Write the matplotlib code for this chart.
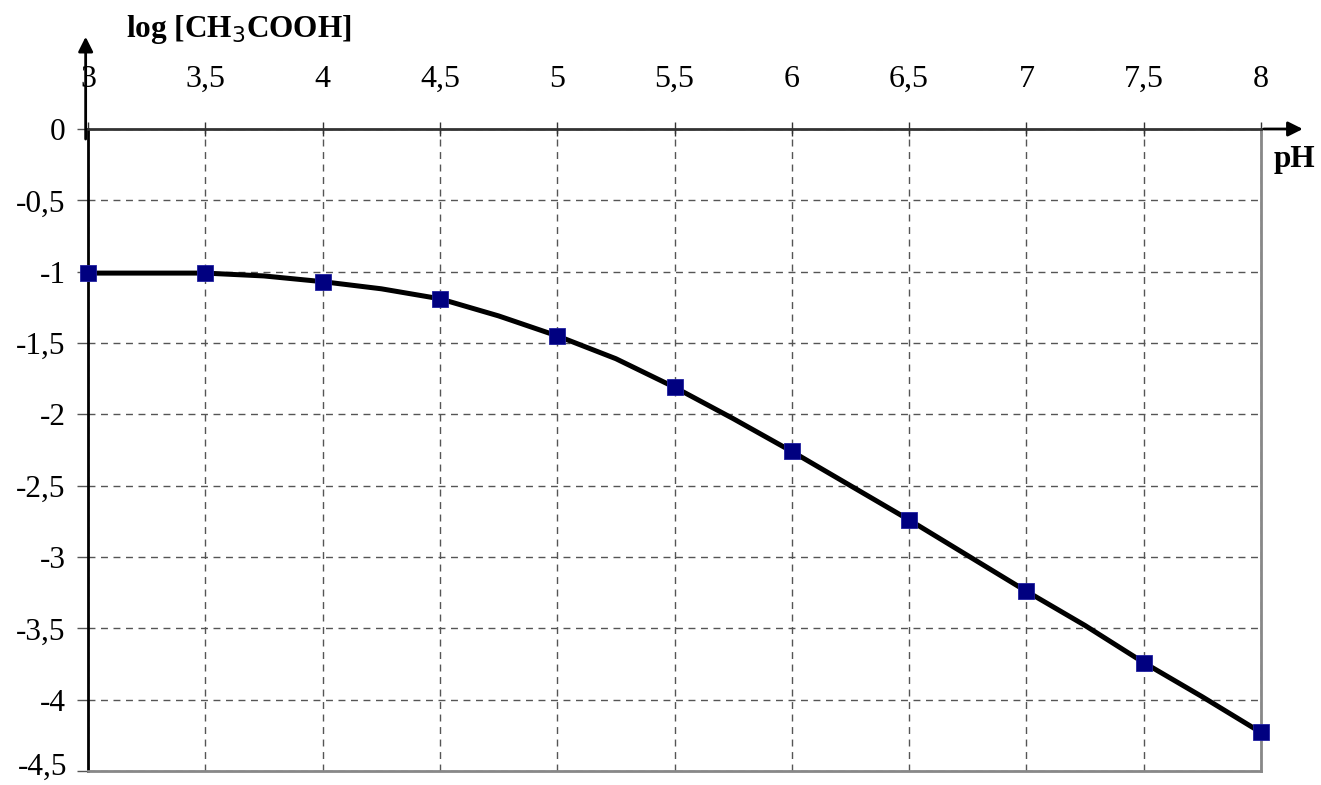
import matplotlib.pyplot as plt
from matplotlib.ticker import FuncFormatter, MultipleLocator

plt.rcParams['font.family'] = ['Liberation Serif', 'DejaVu Serif']
plt.rcParams['axes.unicode_minus'] = False

# full curve (every 0.25 pH) and marked points (every 0.5 pH)
ph_line = [3, 3.25, 3.5, 3.75, 4, 4.25, 4.5, 4.75, 5, 5.25, 5.5, 5.75,
           6, 6.25, 6.5, 6.75, 7, 7.25, 7.5, 7.75, 8]
log_line = [-1.01, -1.01, -1.01, -1.03, -1.07, -1.12, -1.19, -1.31, -1.45, -1.61, -1.81, -2.03,
            -2.26, -2.50, -2.74, -2.99, -3.24, -3.48, -3.74, -3.98, -4.23]
ph_pts = [3, 3.5, 4, 4.5, 5, 5.5, 6, 6.5, 7, 7.5, 8]
log_pts = [-1.01, -1.01, -1.07, -1.19, -1.45, -1.81, -2.26, -2.74, -3.24, -3.74, -4.23]
y_min, y_max = -4.5, 0

fig = plt.figure(figsize=(13.21, 7.85), dpi=100)
ax = fig.add_axes([88 / 1321, 1 - 771 / 785, (1261 - 88) / 1321, (771 - 129) / 785])

ax.plot(ph_line, log_line, color='black', lw=3.6, zorder=3, clip_on=False)
ax.plot(ph_pts, log_pts, ls='none', marker='s', ms=11.5, color='#000080',
        markeredgecolor='#2020a0', markeredgewidth=0.6, zorder=4, clip_on=False)

ax.set_xlim(3, 8)
ax.set_ylim(y_min, y_max)
ax.xaxis.set_major_locator(MultipleLocator(0.5))
ax.yaxis.set_major_locator(MultipleLocator(0.5))
fmt = lambda v: ('%g' % v).replace('.', ',')
ax.xaxis.set_major_formatter(FuncFormatter(lambda v, p: fmt(v)))
# lowest y label is drawn separately, a bit higher, so it is not cut at the edge
ax.yaxis.set_major_formatter(FuncFormatter(lambda v, p: '' if abs(v - y_min) < 1e-9 else fmt(v)))
ax.annotate(fmt(y_min), xy=(0, y_min), xycoords=('axes fraction', 'data'),
            xytext=(-15, 3), textcoords='offset points', ha='right', va='center',
            fontsize=22.5, annotation_clip=False)

ax.xaxis.tick_top()
ax.tick_params(axis='x', direction='inout', length=10, width=1, color='#333333',
               pad=20, labelsize=23)
ax.tick_params(axis='y', direction='out', length=8, width=1, color='#555555',
               pad=8, labelsize=22.5)

ax.grid(True, color='#555555', ls=(0, (5, 4)), lw=1)

ax.spines['left'].set_color('black')
ax.spines['left'].set_linewidth(2)
ax.spines['top'].set_color('#333333')
ax.spines['top'].set_linewidth(2)
ax.spines['bottom'].set_color('#888888')
ax.spines['bottom'].set_linewidth(2)
ax.spines['right'].set_color('#888888')
ax.spines['right'].set_linewidth(2)

# axis arrows
ax.annotate('', xy=(1.038, 1), xytext=(1.0, 1), xycoords='axes fraction',
            arrowprops=dict(arrowstyle='-|>', color='black', lw=2, mutation_scale=22),
            annotation_clip=False)
ax.annotate('', xy=(-0.002, 1.148), xytext=(-0.002, 0.98), xycoords='axes fraction',
            arrowprops=dict(arrowstyle='-|>', color='black', lw=2, mutation_scale=22),
            annotation_clip=False)

fig.text(126 / 1321, 1 - 30 / 785, 'log [CH$_3$COOH]', fontsize=22.5, fontweight='bold',
         va='center', ha='left')
fig.text(1274 / 1321, 1 - 160 / 785, 'pH', fontsize=22.5, fontweight='bold',
         va='center', ha='left')

fig.savefig('out.png', dpi=100)
